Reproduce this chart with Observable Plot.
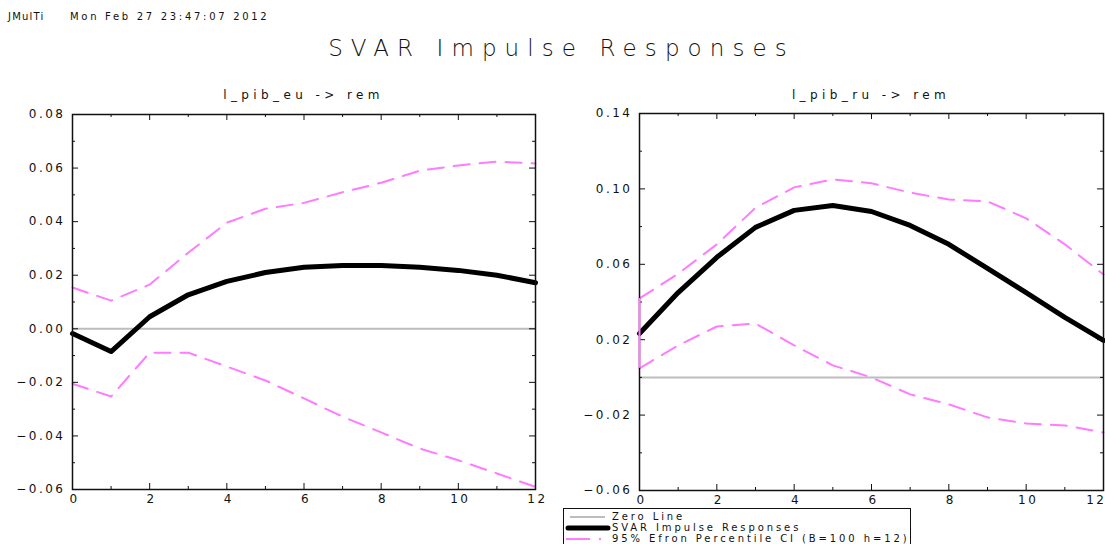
<!DOCTYPE html>
<html><head><meta charset="utf-8">
<script src="https://cdn.jsdelivr.net/npm/d3@7"></script>
<script src="https://cdn.jsdelivr.net/npm/@observablehq/plot@0.6"></script>
<style>
body{margin:0;background:#fff;}
#page{position:relative;width:1105px;height:544px;overflow:hidden;font-family:"DejaVu Sans",sans-serif;color:#111;background:#fff;}
.abs{position:absolute;}
</style></head><body>
<div id="page"></div>
<script>
// ---------- data ----------
const steps = [0,1,2,3,4,5,6,7,8,9,10,11,12];
const svarEU  = [-0.0018,-0.0085,0.0045,0.0127,0.0177,0.0210,0.0230,0.0236,0.0236,0.0230,0.0218,0.0200,0.0172];
const upperEU = [0.0154,0.0105,0.0165,0.0284,0.0396,0.0448,0.0470,0.0510,0.0545,0.0590,0.0610,0.0624,0.0617];
const lowerEU = [-0.0205,-0.0253,-0.0089,-0.0089,-0.0141,-0.0193,-0.0260,-0.0328,-0.0387,-0.0447,-0.0491,-0.0540,-0.0590];
const svarRU  = [0.0233,0.0450,0.0637,0.0796,0.0886,0.0912,0.0880,0.0806,0.0706,0.0578,0.0450,0.0318,0.0196];
const upperRU = [0.0419,0.0550,0.0706,0.0900,0.1008,0.1050,0.1030,0.0980,0.0944,0.0934,0.0844,0.0706,0.0546];
const lowerRU = [0.0048,0.0170,0.0270,0.0286,0.0170,0.0064,0.0000,-0.0090,-0.0143,-0.0212,-0.0244,-0.0255,-0.0292];
const xMajor = [0,2,4,6,8,10,12];
const xMinor = [1,3,5,7,9,11];
const yMajorEU = [-0.06,-0.04,-0.02,0,0.02,0.04,0.06,0.08];
const yMinorEU = [-0.05,-0.03,-0.01,0.01,0.03,0.05,0.07];
const yMajorRU = [-0.06,-0.02,0.02,0.06,0.10,0.14];
const yMinorRU = [-0.04,0,0.04,0.08,0.12];
const panelTitles = ["l_pib_eu -> rem","l_pib_ru -> rem"];
const legendLabels = ["Zero Line","SVAR Impulse Responses","95% Efron Percentile CI (B=100 h=12)"];
const headerProgram = "JMulTi";
const headerDate = "Mon Feb 27 23:47:07 2012";
const mainTitle = "SVAR Impulse Responses";

// ---------- styles ----------
const PINK = "#ff7bff";
const GRAY = "#bdbdbd";
const page = document.getElementById("page");

function addText(txt, css) {
  const d = document.createElement("div");
  d.className = "abs";
  d.textContent = txt;
  d.style.cssText += css;
  page.appendChild(d);
}
addText(headerProgram, "left:8px;top:11px;font-size:10px;letter-spacing:1.2px;white-space:pre;");
addText(headerDate, "left:70px;top:11px;font-size:10px;letter-spacing:2.7px;white-space:pre;");
addText(mainTitle, "left:0;width:1123px;top:35px;text-align:center;font-size:23px;font-weight:200;letter-spacing:8.1px;white-space:pre;");

const fmt = d => (d < 0 ? "\u2212" : "") + Math.abs(d).toFixed(2);

function panel({svar, upper, lower, yDomain, yMajor, yMinor, left, top, width, height, ml, mr, mt, mb, ciLink, title, lastLabelEnd}) {
  const data = steps.map((h, i) => ({h, svar: svar[i], upper: upper[i], lower: lower[i]}));
  const iw = width - ml - mr, ih = height - mt - mb;
  const tickStyle = {stroke: "#111", strokeWidth: 1};
  const xCentered = lastLabelEnd ? xMajor.slice(0, -1) : xMajor;
  const plot = Plot.plot({
    width, height,
    marginLeft: ml, marginRight: mr, marginTop: mt, marginBottom: mb,
    x: {domain: [0, 12]},
    y: {domain: yDomain},
    style: {fontFamily: "DejaVu Sans", fontSize: "12px", letterSpacing: "2.5px", background: "transparent", maxWidth: "none", overflow: "visible"},
    marks: [
      Plot.ruleY([0], {stroke: GRAY, strokeWidth: 2}),
      Plot.line(data, {x: "h", y: "upper", stroke: PINK, strokeWidth: 2, strokeDasharray: "16,10"}),
      Plot.line(data, {x: "h", y: "lower", stroke: PINK, strokeWidth: 2, strokeDasharray: "16,10"}),
      Plot.line(data, {x: "h", y: "svar", stroke: "black", strokeWidth: 5, strokeLinejoin: "round"}),
      // inward ticks on all four sides
      Plot.tickY(yMajor, {y: d => d, insetRight: iw - 6, ...tickStyle}),
      Plot.tickY(yMinor, {y: d => d, insetRight: iw - 3, ...tickStyle}),
      Plot.tickY(yMajor, {y: d => d, insetLeft: iw - 6, ...tickStyle}),
      Plot.tickY(yMinor, {y: d => d, insetLeft: iw - 3, ...tickStyle}),
      Plot.tickX(xMajor, {x: d => d, insetTop: ih - 6, ...tickStyle}),
      Plot.tickX(xMinor, {x: d => d, insetTop: ih - 3, ...tickStyle}),
      Plot.tickX(xMajor, {x: d => d, insetBottom: ih - 6, ...tickStyle}),
      Plot.tickX(xMinor, {x: d => d, insetBottom: ih - 3, ...tickStyle}),
      Plot.frame({stroke: "#111", strokeWidth: 1.5}),
      ciLink ? Plot.ruleX([data[0]], {x: "h", y1: "lower", y2: "upper", stroke: PINK, strokeWidth: 2}) : null,
      Plot.axisY(yMajor, {tickSize: 0, tickPadding: 7, tickFormat: fmt, label: null}),
      Plot.axisX(xCentered, {tickSize: 0, tickPadding: 5, dx: 2, tickFormat: d => String(d), label: null}),
      lastLabelEnd ? Plot.axisX(xMajor.slice(-1), {tickSize: 0, tickPadding: 5, dx: 3, textAnchor: "end", tickFormat: d => String(d), label: null}) : null
    ]
  });
  const wrap = document.createElement("div");
  wrap.className = "abs";
  wrap.style.cssText += `left:${left}px;top:${top}px;width:${width}px;height:${height}px;`;
  wrap.appendChild(plot);
  page.appendChild(wrap);
  addText(title, `left:${left + ml}px;width:${iw}px;top:${top - 12}px;text-align:center;font-size:12px;letter-spacing:4.4px;white-space:pre;`);
}

panel({svar: svarEU, upper: upperEU, lower: lowerEU, yDomain: [-0.06, 0.08], yMajor: yMajorEU, yMinor: yMinorEU,
  left: 0, top: 100, width: 560, height: 420, ml: 72, mr: 25, mt: 14, mb: 31, ciLink: false, title: panelTitles[0], lastLabelEnd: false});
panel({svar: svarRU, upper: upperRU, lower: lowerRU, yDomain: [-0.06, 0.14], yMajor: yMajorRU, yMinor: yMinorRU,
  left: 560, top: 100, width: 545, height: 420, ml: 79, mr: 2, mt: 13, mb: 30, ciLink: true, title: panelTitles[1], lastLabelEnd: true});

// ---------- legend ----------
const NS = "http://www.w3.org/2000/svg";
const lg = document.createElementNS(NS, "svg");
lg.setAttribute("width", 348); lg.setAttribute("height", 40);
lg.setAttribute("class", "abs");
lg.style.left = "563px"; lg.style.top = "508px";
function el(tag, attrs) { const e = document.createElementNS(NS, tag); for (const k in attrs) e.setAttribute(k, attrs[k]); lg.appendChild(e); return e; }
el("rect", {x: 0.5, y: 0.5, width: 347, height: 60, fill: "white", stroke: "#111", "stroke-width": 1});
const rowsY = [9, 20, 31];
el("line", {x1: 7, x2: 42, y1: rowsY[0], y2: rowsY[0], stroke: GRAY, "stroke-width": 2});
el("line", {x1: 5, x2: 45, y1: rowsY[1], y2: rowsY[1], stroke: "black", "stroke-width": 5, "stroke-linecap": "round"});
el("line", {x1: 3, x2: 27, y1: rowsY[2], y2: rowsY[2], stroke: PINK, "stroke-width": 2});
el("circle", {cx: 37, cy: rowsY[2], r: 1.2, fill: PINK});
legendLabels.forEach((t, i) => {
  const tx = el("text", {x: 49, y: rowsY[i], "dominant-baseline": "middle", "font-family": "DejaVu Sans", "font-size": 10, "letter-spacing": "2.9px", fill: "#111"});
  tx.textContent = t;
});
page.appendChild(lg);
</script>
</body></html>
